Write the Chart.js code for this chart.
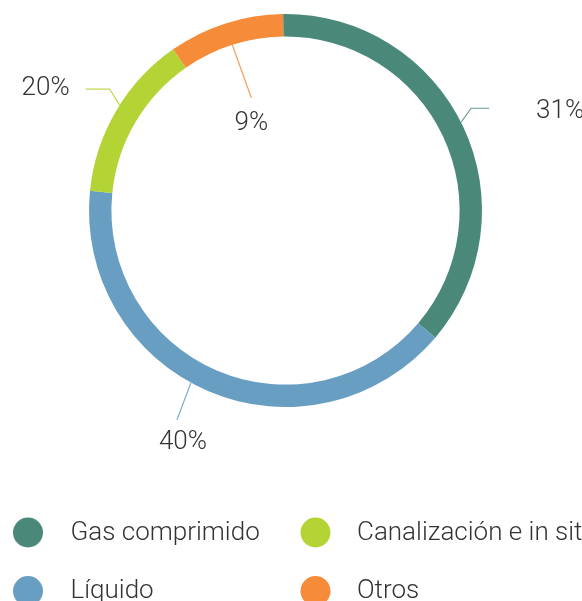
<!DOCTYPE html>
<html>
<head>
<meta charset="utf-8">
<script src="https://cdn.jsdelivr.net/npm/chart.js@4/dist/chart.umd.min.js"></script>
<style>
  html, body { margin: 0; padding: 0; background: #ffffff; overflow: hidden; }
  #wrap { width: 582px; height: 601px; position: relative; }
</style>
</head>
<body>
<div id="wrap"><canvas id="c" width="582" height="601"></canvas></div>
<script>
// ---- data ----
const categories = ["Gas comprimido", "Líquido", "Canalización e in situ", "Otros"];
const sliceValues = [36.4, 40.4, 13.7, 9.5];          // arc sizes as drawn
const percentLabels = ["31%", "40%", "20%", "9%"];    // printed labels
const sliceColors = ["#4a897a", "#699ec3", "#b4d334", "#f68c3a"];

// ---- label / leader layout (annotation styling) ----
const labelLayout = [
  { edge: "outer", da: -1.5, ex: 10, ey: -14, hx: 18, tx: 47, ty: 9.3, align: "left" },
  { edge: "outer", da: 5.7,  ex: -14, ey: 37, hx: 0, tx: 6, ty: 29.7, align: "center" },
  { edge: "outer", da: 2.0,  ex: -10, ey: -16, hx: -24, tx: -16, ty: 5.8, align: "right" },
  { edge: "inner", da: 0,    ex: 19, ey: 53, hx: 0, tx: 0, ty: 32, align: "center" }
];

const FONT = "300 26px Roboto, 'Noto Sans', sans-serif";
const TEXT_COLOR = "#333333";

const labelsPlugin = {
  id: "leaderLabels",
  afterDatasetsDraw(chart) {
    const ctx = chart.ctx;
    const meta = chart.getDatasetMeta(0);
    ctx.save();
    meta.data.forEach((arc, i) => {
      const L = labelLayout[i];
      const p = arc.getProps(["x", "y", "startAngle", "endAngle", "outerRadius", "innerRadius"], true);
      const mid = (p.startAngle + p.endAngle) / 2 + L.da * Math.PI / 180;
      const r = L.edge === "outer" ? p.outerRadius : p.innerRadius;
      const sx = p.x + Math.cos(mid) * r;
      const sy = p.y + Math.sin(mid) * r;
      const ex = sx + L.ex, ey = sy + L.ey;
      const hx = ex + L.hx, hy = ey;
      ctx.beginPath();
      ctx.moveTo(sx, sy);
      ctx.lineTo(ex, ey);
      if (L.hx !== 0) ctx.lineTo(hx, hy);
      ctx.strokeStyle = sliceColors[i];
      ctx.globalAlpha = 0.85;
      ctx.lineWidth = 1.2;
      ctx.stroke();
      ctx.globalAlpha = 1;
      ctx.font = FONT;
      ctx.fillStyle = TEXT_COLOR;
      ctx.textAlign = L.align;
      ctx.textBaseline = "alphabetic";
      ctx.fillText(percentLabels[i], hx + L.tx, hy + L.ty);
    });
    ctx.restore();
  }
};

const legendPlugin = {
  id: "bottomLegend",
  afterDraw(chart) {
    const ctx = chart.ctx;
    const cols = [{ cx: 28, tx: 70.5 }, { cx: 315.5, tx: 357 }];
    const rows = [539.5, 598];
    const order = [[0, 0], [1, 0], [0, 1], [1, 1]]; // [row, col] per category
    ctx.save();
    ctx.font = FONT;
    ctx.textAlign = "left";
    ctx.textBaseline = "alphabetic";
    chart.data.labels.forEach((lab, i) => {
      const col = cols[order[i][1]];
      const base = rows[order[i][0]];
      ctx.beginPath();
      ctx.arc(col.cx, base - 7, 15, 0, Math.PI * 2);
      ctx.fillStyle = chart.data.datasets[0].backgroundColor[i];
      ctx.fill();
      ctx.fillStyle = TEXT_COLOR;
      ctx.fillText(lab, col.tx, base);
    });
    ctx.restore();
  }
};

new Chart(document.getElementById("c"), {
  type: "doughnut",
  data: {
    labels: categories,
    datasets: [{
      data: sliceValues,
      backgroundColor: sliceColors,
      borderWidth: 0,
      hoverOffset: 0
    }]
  },
  options: {
    responsive: false,
    animation: false,
    devicePixelRatio: 1,
    cutout: "88.6%",
    rotation: -0.7,
    layout: { padding: { left: 89, right: 100, top: 14, bottom: 194 } },
    plugins: {
      legend: { display: false },
      tooltip: { enabled: false }
    },
    events: []
  },
  plugins: [labelsPlugin, legendPlugin]
});
</script>
</body>
</html>
